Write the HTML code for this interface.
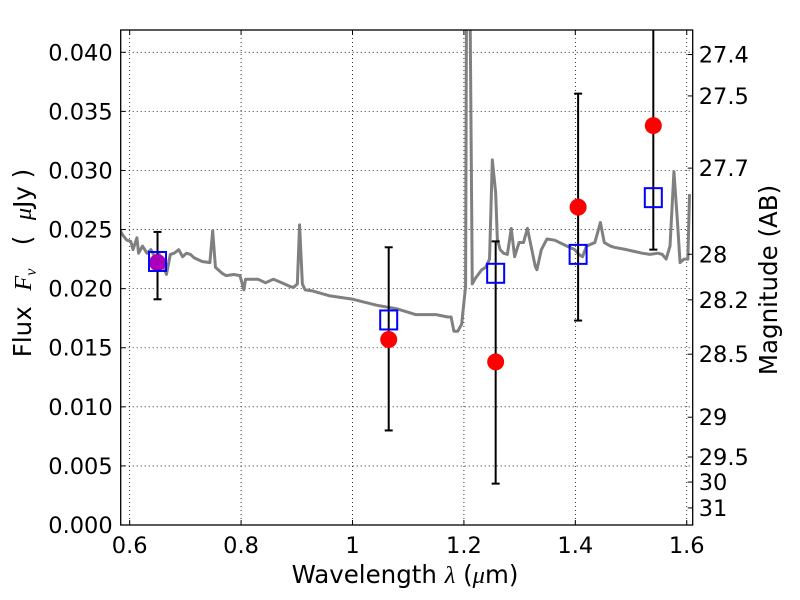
<!DOCTYPE html>
<html><head><meta charset="utf-8"><style>
html,body{margin:0;padding:0;background:#fff;}
svg{display:block;font-family:"DejaVu Sans","Liberation Sans",sans-serif;}
</style></head><body>
<svg id="chart" width="800" height="600" viewBox="0 0 800 600" xmlns="http://www.w3.org/2000/svg">
<rect x="0" y="0" width="800" height="600" fill="#fff"/>
<g id="grid"></g>
<g id="plot"></g>
<g id="axes"></g>
<text x="405" y="583" font-size="24.5" text-anchor="middle">Wavelength  <tspan font-style="italic" font-family="Liberation Serif, serif">λ</tspan> (<tspan font-style="italic" font-family="Liberation Serif, serif">μ</tspan>m)</text>
<text transform="translate(31,263) rotate(-90)" font-size="24.5" text-anchor="middle" xml:space="preserve">Flux  <tspan font-style="italic" font-family="Liberation Serif, serif">F</tspan><tspan font-style="italic" font-family="Liberation Serif, serif" font-size="16" dy="5">ν</tspan><tspan dy="-5">   (  </tspan><tspan font-style="italic" font-family="Liberation Serif, serif">μ</tspan>Jy )</text>
<text transform="translate(777,280) rotate(-90)" font-size="24.5" text-anchor="middle">Magnitude (AB)</text>
</svg>
<script>
const xTicks=[0.6,0.8,1.0,1.2,1.4,1.6];
const xTickLabels=["0.6","0.8","1","1.2","1.4","1.6"];
const yTicks=[0,0.005,0.010,0.015,0.020,0.025,0.030,0.035,0.040];
const yTickLabels=["0.000","0.005","0.010","0.015","0.020","0.025","0.030","0.035","0.040"];
const magTicks=[27.4,27.5,27.7,28,28.2,28.5,29,29.5,30,31];
const magTickLabels=["27.4","27.5","27.7","28","28.2","28.5","29","29.5","30","31"];
const specWave=[0.582,0.588,0.595,0.602,0.606,0.613,0.616,0.623,0.631,0.638,0.645,0.652,0.659,0.666,0.673,0.680,0.688,0.695,0.702,0.709,0.716,0.730,0.744,0.749,0.754,0.766,0.773,0.787,0.798,0.805,0.808,0.830,0.844,0.858,0.873,0.887,0.894,0.901,0.905,0.910,0.915,0.929,0.958,1.001,1.043,1.079,1.114,1.150,1.171,1.177,1.182,1.189,1.196,1.203,1.205,1.210,1.215,1.221,1.232,1.239,1.246,1.251,1.257,1.260,1.265,1.271,1.278,1.285,1.291,1.299,1.307,1.314,1.321,1.328,1.331,1.339,1.349,1.363,1.385,1.399,1.406,1.413,1.420,1.435,1.445,1.452,1.463,1.470,1.492,1.520,1.534,1.548,1.556,1.563,1.570,1.577,1.583,1.588,1.595,1.602,1.605];
const specFlux=[0.0250,0.0245,0.0241,0.0240,0.0233,0.0243,0.0230,0.0236,0.0230,0.0233,0.0227,0.0230,0.0222,0.0212,0.0229,0.0230,0.0233,0.0227,0.0230,0.0229,0.0226,0.0223,0.0222,0.0249,0.0218,0.0213,0.0211,0.0212,0.0211,0.0199,0.0208,0.0208,0.0205,0.0208,0.0205,0.0202,0.0201,0.0204,0.0254,0.0204,0.0199,0.0198,0.0194,0.0191,0.0186,0.0183,0.0178,0.0178,0.0176,0.0176,0.0164,0.0164,0.0170,0.0202,0.050,0.050,0.0204,0.0209,0.0216,0.0218,0.0225,0.0309,0.0281,0.0242,0.0233,0.0230,0.0229,0.0251,0.0227,0.0239,0.0239,0.0251,0.0235,0.0219,0.0216,0.0233,0.0242,0.0241,0.0236,0.0233,0.0229,0.0227,0.0236,0.0239,0.0256,0.0239,0.0236,0.0235,0.0233,0.0230,0.0229,0.0230,0.0229,0.0225,0.0236,0.0299,0.0259,0.0222,0.0225,0.0225,0.0280];
const obsWave=[0.650,1.065,1.257,1.405,1.540];
const obsFlux=[0.0222,0.0157,0.0138,0.0269,0.0338];
const obsLow=[0.0191,0.0080,0.0035,0.0173,0.0233];
const obsHigh=[0.0248,0.0235,0.0240,0.0365,0.0450];
const obsColors=["#aa00bb","#ff0000","#ff0000","#ff0000","#ff0000"];
const modelFlux=[0.0223,0.01735,0.0213,0.0229,0.0277];

const L=120.7,R=692.7,T=30,B=525;
const xMin=0.5839,xMax=1.6107,yMax=(B-T)/(B-52.3)*0.040;
const sx=v=>L+(v-xMin)/(xMax-xMin)*(R-L);
const sy=v=>B-v/yMax*(B-T);
const NS="http://www.w3.org/2000/svg";
function mk(tag,attrs,parent){const e=document.createElementNS(NS,tag);for(const k in attrs)e.setAttribute(k,attrs[k]);parent.appendChild(e);return e;}
const grid=document.getElementById('grid'),plot=document.getElementById('plot'),axes=document.getElementById('axes');

xTicks.forEach((t,i)=>{const x=sx(t);
 const g=mk('line',{x1:x,x2:x,y1:T,y2:B,stroke:'#000','stroke-width':0.8,'stroke-dasharray':'1,3'},grid);
 
 
 mk('line',{x1:x,x2:x,y1:B,y2:B-5,stroke:'#000'},axes);
 mk('line',{x1:x,x2:x,y1:T,y2:T+5,stroke:'#000'},axes);
 const tx=mk('text',{x:x,y:B+28,'font-size':22.5,'text-anchor':'middle'},axes);tx.textContent=xTickLabels[i];
 
 
});
yTicks.forEach((t,i)=>{const y=sy(t);
 const g=mk('line',{x1:L,x2:R,y1:y,y2:y,stroke:'#000','stroke-width':0.8,'stroke-dasharray':'1,3'},grid);
 
 
 mk('line',{x1:L,x2:L+5,y1:y,y2:y,stroke:'#000'},axes);
 const tx=mk('text',{x:L-8,y:y+8,'font-size':22.5,'text-anchor':'end'},axes);tx.textContent=yTickLabels[i];
 
 
});
magTicks.forEach((m,i)=>{const f=Math.pow(10,(23.9-m)/2.5);const y=sy(f);
 mk('line',{x1:R,x2:R-5,y1:y,y2:y,stroke:'#000'},axes);
 const tx=mk('text',{x:R+6,y:y+8,'font-size':22.5},axes);tx.textContent=magTickLabels[i];
 
 
});
const defs=mk('defs',{},plot);const cp=mk('clipPath',{id:'clip'},defs);mk('rect',{x:L,y:T,width:R-L,height:B-T},cp);
const spec=mk('polyline',{points:specWave.map((w,i)=>sx(w)+','+sy(specFlux[i])).join(' '),fill:'none',stroke:'#808080','stroke-width':3,'clip-path':'url(#clip)','stroke-linejoin':'round'},plot);


obsWave.forEach((w,i)=>{const x=sx(w);
 const y1=sy(obsHigh[i]),y2=sy(obsLow[i]);
 const e=mk('g',{'clip-path':'url(#clip)'},plot);
 
 
 mk('line',{x1:x,x2:x,y1:y1,y2:y2,stroke:'#000','stroke-width':2},e);
 mk('line',{x1:x-4,x2:x+4,y1:y1,y2:y1,stroke:'#000','stroke-width':2},e);
 mk('line',{x1:x-4,x2:x+4,y1:y2,y2:y2,stroke:'#000','stroke-width':2},e);
});
obsWave.forEach((w,i)=>{
 const c=mk('ellipse',{cx:sx(w),cy:sy(obsFlux[i]),rx:8.5,ry:8.5,fill:obsColors[i]},plot);
 
 
});
obsWave.forEach((w,i)=>{
 const s=mk('rect',{x:sx(w)-8.5,y:sy(modelFlux[i])-9.5,width:17,height:19,fill:'none',stroke:'#0000ff','stroke-width':2},plot);
 
 
});
const frame=mk('rect',{x:L,y:T,width:R-L,height:B-T,fill:'none',stroke:'#000','stroke-width':1.3},axes);


</script>
</body></html>
